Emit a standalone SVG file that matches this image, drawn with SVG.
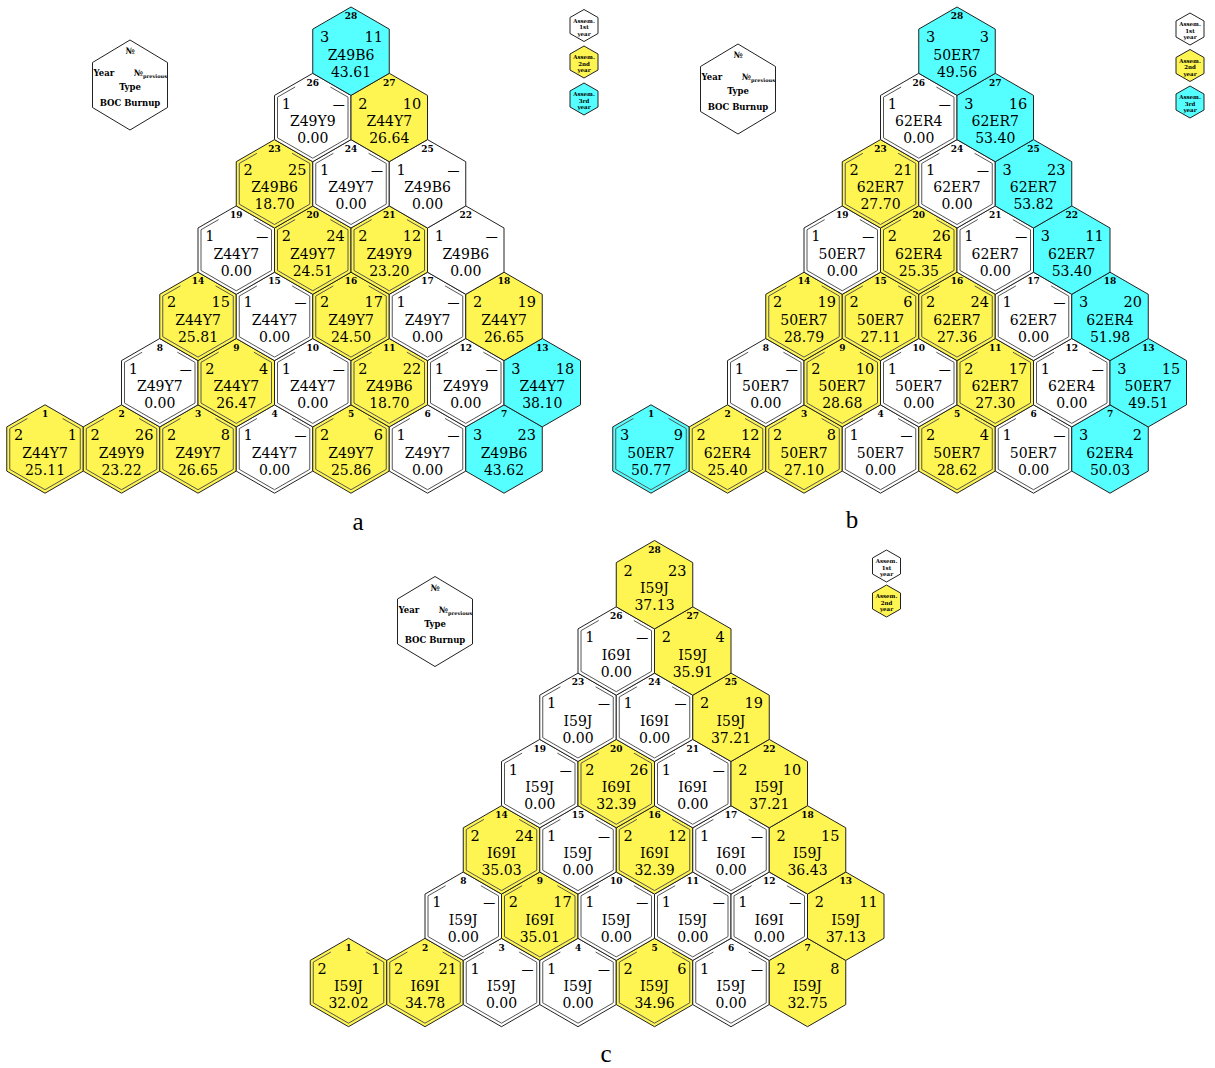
<svg xmlns="http://www.w3.org/2000/svg" width="1215" height="1068" viewBox="0 0 1215 1068">
<style>
.h{stroke:#222;stroke-width:1}
.w{fill:#fff}.y{fill:#FFF552}.c{fill:#55FFFF}
.in{fill:none;stroke:#555;stroke-width:1}
text{font-family:"DejaVu Serif",serif;fill:#000}
.n{font-size:9px;font-weight:bold;text-anchor:middle}
.l{font-size:14.5px}
.r{font-size:14.5px;text-anchor:end}
.d{font-size:12px;text-anchor:end}
.t{font-size:14px;text-anchor:middle}
.lg{font-size:8.5px;font-weight:bold}
.lgm{font-size:8.5px;font-weight:bold;text-anchor:middle}
.sl{font-size:5.5px;font-weight:bold;text-anchor:middle}
.cap{font-family:"Liberation Serif",serif;font-size:25px;text-anchor:middle}
</style>
<defs>
<path id="hx" d="M0,-44.2 L38.25,-22.1 L38.25,22.1 L0,44.2 L-38.25,22.1 L-38.25,-22.1Z"/>
<path id="in" d="M-17.6,-30.5 L-35.25,-20.35 L-35.25,20.35 L0,40.7 L35.25,20.35 L35.25,-20.35 L17.6,-30.5"/>
<path id="lh" d="M0,-45 L37.5,-22.5 L37.5,22.5 L0,45 L-37.5,22.5 L-37.5,-22.5Z"/>
<path id="sh" d="M0,-16 L14,-8 L14,8 L0,16 L-14,8 L-14,-8Z"/>
</defs>

<!-- Panel a -->
<g id="panel-a">
<g id="a-legend" transform="translate(130,85)"><use href="#lh" class="h w"/><text class="lgm" y="-31">№</text><text class="lg" x="-36.5" y="-9">Year</text><text class="lg" x="37" y="-9" text-anchor="end">№<tspan font-size="5" dy="2">previous</tspan></text><text class="lgm" y="5">Type</text><text class="lgm" y="21">BOC Burnup</text></g>
<g id="a-key1" transform="translate(584,25.5)"><use href="#sh" class="h w"/><text class="sl" y="-3">Assem.</text><text class="sl" y="3.5">1st</text><text class="sl" y="10">year</text></g>
<g id="a-key2" transform="translate(584,62)"><use href="#sh" class="h y"/><text class="sl" y="-3">Assem.</text><text class="sl" y="3.5">2nd</text><text class="sl" y="10">year</text></g>
<g id="a-key3" transform="translate(584,99)"><use href="#sh" class="h c"/><text class="sl" y="-3">Assem.</text><text class="sl" y="3.5">3rd</text><text class="sl" y="10">year</text></g>
<g id="a1" transform="translate(45,449)"><use href="#hx" class="h y"/><use href="#in" class="in"/><text class="n" y="-32">1</text><text class="l" x="-31" y="-9">2</text><text class="r" x="32" y="-9">1</text><text class="t" y="8.5">Z44Y7</text><text class="t" y="25.5">25.11</text></g>
<g id="a2" transform="translate(121.5,449)"><use href="#hx" class="h y"/><use href="#in" class="in"/><text class="n" y="-32">2</text><text class="l" x="-31" y="-9">2</text><text class="r" x="32" y="-9">26</text><text class="t" y="8.5">Z49Y9</text><text class="t" y="25.5">23.22</text></g>
<g id="a3" transform="translate(198,449)"><use href="#hx" class="h y"/><use href="#in" class="in"/><text class="n" y="-32">3</text><text class="l" x="-31" y="-9">2</text><text class="r" x="32" y="-9">8</text><text class="t" y="8.5">Z49Y7</text><text class="t" y="25.5">26.65</text></g>
<g id="a4" transform="translate(274.5,449)"><use href="#hx" class="h w"/><use href="#in" class="in"/><text class="n" y="-32">4</text><text class="l" x="-31" y="-9">1</text><text class="d" x="32" y="-9">—</text><text class="t" y="8.5">Z44Y7</text><text class="t" y="25.5">0.00</text></g>
<g id="a5" transform="translate(351,449)"><use href="#hx" class="h y"/><use href="#in" class="in"/><text class="n" y="-32">5</text><text class="l" x="-31" y="-9">2</text><text class="r" x="32" y="-9">6</text><text class="t" y="8.5">Z49Y7</text><text class="t" y="25.5">25.86</text></g>
<g id="a6" transform="translate(427.5,449)"><use href="#hx" class="h w"/><use href="#in" class="in"/><text class="n" y="-32">6</text><text class="l" x="-31" y="-9">1</text><text class="d" x="32" y="-9">—</text><text class="t" y="8.5">Z49Y7</text><text class="t" y="25.5">0.00</text></g>
<g id="a7" transform="translate(504,449)"><use href="#hx" class="h c"/><text class="n" y="-32">7</text><text class="l" x="-31" y="-9">3</text><text class="r" x="32" y="-9">23</text><text class="t" y="8.5">Z49B6</text><text class="t" y="25.5">43.62</text></g>
<g id="a8" transform="translate(159.75,382.7)"><use href="#hx" class="h w"/><use href="#in" class="in"/><text class="n" y="-32">8</text><text class="l" x="-31" y="-9">1</text><text class="d" x="32" y="-9">—</text><text class="t" y="8.5">Z49Y7</text><text class="t" y="25.5">0.00</text></g>
<g id="a9" transform="translate(236.25,382.7)"><use href="#hx" class="h y"/><use href="#in" class="in"/><text class="n" y="-32">9</text><text class="l" x="-31" y="-9">2</text><text class="r" x="32" y="-9">4</text><text class="t" y="8.5">Z44Y7</text><text class="t" y="25.5">26.47</text></g>
<g id="a10" transform="translate(312.75,382.7)"><use href="#hx" class="h w"/><use href="#in" class="in"/><text class="n" y="-32">10</text><text class="l" x="-31" y="-9">1</text><text class="d" x="32" y="-9">—</text><text class="t" y="8.5">Z44Y7</text><text class="t" y="25.5">0.00</text></g>
<g id="a11" transform="translate(389.25,382.7)"><use href="#hx" class="h y"/><use href="#in" class="in"/><text class="n" y="-32">11</text><text class="l" x="-31" y="-9">2</text><text class="r" x="32" y="-9">22</text><text class="t" y="8.5">Z49B6</text><text class="t" y="25.5">18.70</text></g>
<g id="a12" transform="translate(465.75,382.7)"><use href="#hx" class="h w"/><use href="#in" class="in"/><text class="n" y="-32">12</text><text class="l" x="-31" y="-9">1</text><text class="d" x="32" y="-9">—</text><text class="t" y="8.5">Z49Y9</text><text class="t" y="25.5">0.00</text></g>
<g id="a13" transform="translate(542.25,382.7)"><use href="#hx" class="h c"/><text class="n" y="-32">13</text><text class="l" x="-31" y="-9">3</text><text class="r" x="32" y="-9">18</text><text class="t" y="8.5">Z44Y7</text><text class="t" y="25.5">38.10</text></g>
<g id="a14" transform="translate(198,316.4)"><use href="#hx" class="h y"/><use href="#in" class="in"/><text class="n" y="-32">14</text><text class="l" x="-31" y="-9">2</text><text class="r" x="32" y="-9">15</text><text class="t" y="8.5">Z44Y7</text><text class="t" y="25.5">25.81</text></g>
<g id="a15" transform="translate(274.5,316.4)"><use href="#hx" class="h w"/><use href="#in" class="in"/><text class="n" y="-32">15</text><text class="l" x="-31" y="-9">1</text><text class="d" x="32" y="-9">—</text><text class="t" y="8.5">Z44Y7</text><text class="t" y="25.5">0.00</text></g>
<g id="a16" transform="translate(351,316.4)"><use href="#hx" class="h y"/><use href="#in" class="in"/><text class="n" y="-32">16</text><text class="l" x="-31" y="-9">2</text><text class="r" x="32" y="-9">17</text><text class="t" y="8.5">Z49Y7</text><text class="t" y="25.5">24.50</text></g>
<g id="a17" transform="translate(427.5,316.4)"><use href="#hx" class="h w"/><use href="#in" class="in"/><text class="n" y="-32">17</text><text class="l" x="-31" y="-9">1</text><text class="d" x="32" y="-9">—</text><text class="t" y="8.5">Z49Y7</text><text class="t" y="25.5">0.00</text></g>
<g id="a18" transform="translate(504,316.4)"><use href="#hx" class="h y"/><text class="n" y="-32">18</text><text class="l" x="-31" y="-9">2</text><text class="r" x="32" y="-9">19</text><text class="t" y="8.5">Z44Y7</text><text class="t" y="25.5">26.65</text></g>
<g id="a19" transform="translate(236.25,250.1)"><use href="#hx" class="h w"/><use href="#in" class="in"/><text class="n" y="-32">19</text><text class="l" x="-31" y="-9">1</text><text class="d" x="32" y="-9">—</text><text class="t" y="8.5">Z44Y7</text><text class="t" y="25.5">0.00</text></g>
<g id="a20" transform="translate(312.75,250.1)"><use href="#hx" class="h y"/><use href="#in" class="in"/><text class="n" y="-32">20</text><text class="l" x="-31" y="-9">2</text><text class="r" x="32" y="-9">24</text><text class="t" y="8.5">Z49Y7</text><text class="t" y="25.5">24.51</text></g>
<g id="a21" transform="translate(389.25,250.1)"><use href="#hx" class="h y"/><use href="#in" class="in"/><text class="n" y="-32">21</text><text class="l" x="-31" y="-9">2</text><text class="r" x="32" y="-9">12</text><text class="t" y="8.5">Z49Y9</text><text class="t" y="25.5">23.20</text></g>
<g id="a22" transform="translate(465.75,250.1)"><use href="#hx" class="h w"/><text class="n" y="-32">22</text><text class="l" x="-31" y="-9">1</text><text class="d" x="32" y="-9">—</text><text class="t" y="8.5">Z49B6</text><text class="t" y="25.5">0.00</text></g>
<g id="a23" transform="translate(274.5,183.8)"><use href="#hx" class="h y"/><use href="#in" class="in"/><text class="n" y="-32">23</text><text class="l" x="-31" y="-9">2</text><text class="r" x="32" y="-9">25</text><text class="t" y="8.5">Z49B6</text><text class="t" y="25.5">18.70</text></g>
<g id="a24" transform="translate(351,183.8)"><use href="#hx" class="h w"/><use href="#in" class="in"/><text class="n" y="-32">24</text><text class="l" x="-31" y="-9">1</text><text class="d" x="32" y="-9">—</text><text class="t" y="8.5">Z49Y7</text><text class="t" y="25.5">0.00</text></g>
<g id="a25" transform="translate(427.5,183.8)"><use href="#hx" class="h w"/><text class="n" y="-32">25</text><text class="l" x="-31" y="-9">1</text><text class="d" x="32" y="-9">—</text><text class="t" y="8.5">Z49B6</text><text class="t" y="25.5">0.00</text></g>
<g id="a26" transform="translate(312.75,117.5)"><use href="#hx" class="h w"/><use href="#in" class="in"/><text class="n" y="-32">26</text><text class="l" x="-31" y="-9">1</text><text class="d" x="32" y="-9">—</text><text class="t" y="8.5">Z49Y9</text><text class="t" y="25.5">0.00</text></g>
<g id="a27" transform="translate(389.25,117.5)"><use href="#hx" class="h y"/><text class="n" y="-32">27</text><text class="l" x="-31" y="-9">2</text><text class="r" x="32" y="-9">10</text><text class="t" y="8.5">Z44Y7</text><text class="t" y="25.5">26.64</text></g>
<g id="a28" transform="translate(351,51.2)"><use href="#hx" class="h c"/><text class="n" y="-32">28</text><text class="l" x="-31" y="-9">3</text><text class="r" x="32" y="-9">11</text><text class="t" y="8.5">Z49B6</text><text class="t" y="25.5">43.61</text></g>
<text class="cap" x="358" y="530">a</text>
</g>

<!-- Panel b -->
<g id="panel-b" transform="translate(606,0)">
<g id="b-legend" transform="translate(132,89)"><use href="#lh" class="h w"/><text class="lgm" y="-31">№</text><text class="lg" x="-36.5" y="-9">Year</text><text class="lg" x="37" y="-9" text-anchor="end">№<tspan font-size="5" dy="2">previous</tspan></text><text class="lgm" y="5">Type</text><text class="lgm" y="21">BOC Burnup</text></g>
<g id="b-key1" transform="translate(584,29)"><use href="#sh" class="h w"/><text class="sl" y="-3">Assem.</text><text class="sl" y="3.5">1st</text><text class="sl" y="10">year</text></g>
<g id="b-key2" transform="translate(584,65.5)"><use href="#sh" class="h y"/><text class="sl" y="-3">Assem.</text><text class="sl" y="3.5">2nd</text><text class="sl" y="10">year</text></g>
<g id="b-key3" transform="translate(584,102)"><use href="#sh" class="h c"/><text class="sl" y="-3">Assem.</text><text class="sl" y="3.5">3rd</text><text class="sl" y="10">year</text></g>
<g id="b1" transform="translate(45,449)"><use href="#hx" class="h c"/><use href="#in" class="in"/><text class="n" y="-32">1</text><text class="l" x="-31" y="-9">3</text><text class="r" x="32" y="-9">9</text><text class="t" y="8.5">50ER7</text><text class="t" y="25.5">50.77</text></g>
<g id="b2" transform="translate(121.5,449)"><use href="#hx" class="h y"/><use href="#in" class="in"/><text class="n" y="-32">2</text><text class="l" x="-31" y="-9">2</text><text class="r" x="32" y="-9">12</text><text class="t" y="8.5">62ER4</text><text class="t" y="25.5">25.40</text></g>
<g id="b3" transform="translate(198,449)"><use href="#hx" class="h y"/><use href="#in" class="in"/><text class="n" y="-32">3</text><text class="l" x="-31" y="-9">2</text><text class="r" x="32" y="-9">8</text><text class="t" y="8.5">50ER7</text><text class="t" y="25.5">27.10</text></g>
<g id="b4" transform="translate(274.5,449)"><use href="#hx" class="h w"/><use href="#in" class="in"/><text class="n" y="-32">4</text><text class="l" x="-31" y="-9">1</text><text class="d" x="32" y="-9">—</text><text class="t" y="8.5">50ER7</text><text class="t" y="25.5">0.00</text></g>
<g id="b5" transform="translate(351,449)"><use href="#hx" class="h y"/><use href="#in" class="in"/><text class="n" y="-32">5</text><text class="l" x="-31" y="-9">2</text><text class="r" x="32" y="-9">4</text><text class="t" y="8.5">50ER7</text><text class="t" y="25.5">28.62</text></g>
<g id="b6" transform="translate(427.5,449)"><use href="#hx" class="h w"/><use href="#in" class="in"/><text class="n" y="-32">6</text><text class="l" x="-31" y="-9">1</text><text class="d" x="32" y="-9">—</text><text class="t" y="8.5">50ER7</text><text class="t" y="25.5">0.00</text></g>
<g id="b7" transform="translate(504,449)"><use href="#hx" class="h c"/><text class="n" y="-32">7</text><text class="l" x="-31" y="-9">3</text><text class="r" x="32" y="-9">2</text><text class="t" y="8.5">62ER4</text><text class="t" y="25.5">50.03</text></g>
<g id="b8" transform="translate(159.75,382.7)"><use href="#hx" class="h w"/><use href="#in" class="in"/><text class="n" y="-32">8</text><text class="l" x="-31" y="-9">1</text><text class="d" x="32" y="-9">—</text><text class="t" y="8.5">50ER7</text><text class="t" y="25.5">0.00</text></g>
<g id="b9" transform="translate(236.25,382.7)"><use href="#hx" class="h y"/><use href="#in" class="in"/><text class="n" y="-32">9</text><text class="l" x="-31" y="-9">2</text><text class="r" x="32" y="-9">10</text><text class="t" y="8.5">50ER7</text><text class="t" y="25.5">28.68</text></g>
<g id="b10" transform="translate(312.75,382.7)"><use href="#hx" class="h w"/><use href="#in" class="in"/><text class="n" y="-32">10</text><text class="l" x="-31" y="-9">1</text><text class="d" x="32" y="-9">—</text><text class="t" y="8.5">50ER7</text><text class="t" y="25.5">0.00</text></g>
<g id="b11" transform="translate(389.25,382.7)"><use href="#hx" class="h y"/><use href="#in" class="in"/><text class="n" y="-32">11</text><text class="l" x="-31" y="-9">2</text><text class="r" x="32" y="-9">17</text><text class="t" y="8.5">62ER7</text><text class="t" y="25.5">27.30</text></g>
<g id="b12" transform="translate(465.75,382.7)"><use href="#hx" class="h w"/><use href="#in" class="in"/><text class="n" y="-32">12</text><text class="l" x="-31" y="-9">1</text><text class="d" x="32" y="-9">—</text><text class="t" y="8.5">62ER4</text><text class="t" y="25.5">0.00</text></g>
<g id="b13" transform="translate(542.25,382.7)"><use href="#hx" class="h c"/><text class="n" y="-32">13</text><text class="l" x="-31" y="-9">3</text><text class="r" x="32" y="-9">15</text><text class="t" y="8.5">50ER7</text><text class="t" y="25.5">49.51</text></g>
<g id="b14" transform="translate(198,316.4)"><use href="#hx" class="h y"/><use href="#in" class="in"/><text class="n" y="-32">14</text><text class="l" x="-31" y="-9">2</text><text class="r" x="32" y="-9">19</text><text class="t" y="8.5">50ER7</text><text class="t" y="25.5">28.79</text></g>
<g id="b15" transform="translate(274.5,316.4)"><use href="#hx" class="h y"/><use href="#in" class="in"/><text class="n" y="-32">15</text><text class="l" x="-31" y="-9">2</text><text class="r" x="32" y="-9">6</text><text class="t" y="8.5">50ER7</text><text class="t" y="25.5">27.11</text></g>
<g id="b16" transform="translate(351,316.4)"><use href="#hx" class="h y"/><use href="#in" class="in"/><text class="n" y="-32">16</text><text class="l" x="-31" y="-9">2</text><text class="r" x="32" y="-9">24</text><text class="t" y="8.5">62ER7</text><text class="t" y="25.5">27.36</text></g>
<g id="b17" transform="translate(427.5,316.4)"><use href="#hx" class="h w"/><use href="#in" class="in"/><text class="n" y="-32">17</text><text class="l" x="-31" y="-9">1</text><text class="d" x="32" y="-9">—</text><text class="t" y="8.5">62ER7</text><text class="t" y="25.5">0.00</text></g>
<g id="b18" transform="translate(504,316.4)"><use href="#hx" class="h c"/><text class="n" y="-32">18</text><text class="l" x="-31" y="-9">3</text><text class="r" x="32" y="-9">20</text><text class="t" y="8.5">62ER4</text><text class="t" y="25.5">51.98</text></g>
<g id="b19" transform="translate(236.25,250.1)"><use href="#hx" class="h w"/><use href="#in" class="in"/><text class="n" y="-32">19</text><text class="l" x="-31" y="-9">1</text><text class="d" x="32" y="-9">—</text><text class="t" y="8.5">50ER7</text><text class="t" y="25.5">0.00</text></g>
<g id="b20" transform="translate(312.75,250.1)"><use href="#hx" class="h y"/><use href="#in" class="in"/><text class="n" y="-32">20</text><text class="l" x="-31" y="-9">2</text><text class="r" x="32" y="-9">26</text><text class="t" y="8.5">62ER4</text><text class="t" y="25.5">25.35</text></g>
<g id="b21" transform="translate(389.25,250.1)"><use href="#hx" class="h w"/><use href="#in" class="in"/><text class="n" y="-32">21</text><text class="l" x="-31" y="-9">1</text><text class="d" x="32" y="-9">—</text><text class="t" y="8.5">62ER7</text><text class="t" y="25.5">0.00</text></g>
<g id="b22" transform="translate(465.75,250.1)"><use href="#hx" class="h c"/><text class="n" y="-32">22</text><text class="l" x="-31" y="-9">3</text><text class="r" x="32" y="-9">11</text><text class="t" y="8.5">62ER7</text><text class="t" y="25.5">53.40</text></g>
<g id="b23" transform="translate(274.5,183.8)"><use href="#hx" class="h y"/><use href="#in" class="in"/><text class="n" y="-32">23</text><text class="l" x="-31" y="-9">2</text><text class="r" x="32" y="-9">21</text><text class="t" y="8.5">62ER7</text><text class="t" y="25.5">27.70</text></g>
<g id="b24" transform="translate(351,183.8)"><use href="#hx" class="h w"/><use href="#in" class="in"/><text class="n" y="-32">24</text><text class="l" x="-31" y="-9">1</text><text class="d" x="32" y="-9">—</text><text class="t" y="8.5">62ER7</text><text class="t" y="25.5">0.00</text></g>
<g id="b25" transform="translate(427.5,183.8)"><use href="#hx" class="h c"/><text class="n" y="-32">25</text><text class="l" x="-31" y="-9">3</text><text class="r" x="32" y="-9">23</text><text class="t" y="8.5">62ER7</text><text class="t" y="25.5">53.82</text></g>
<g id="b26" transform="translate(312.75,117.5)"><use href="#hx" class="h w"/><use href="#in" class="in"/><text class="n" y="-32">26</text><text class="l" x="-31" y="-9">1</text><text class="d" x="32" y="-9">—</text><text class="t" y="8.5">62ER4</text><text class="t" y="25.5">0.00</text></g>
<g id="b27" transform="translate(389.25,117.5)"><use href="#hx" class="h c"/><text class="n" y="-32">27</text><text class="l" x="-31" y="-9">3</text><text class="r" x="32" y="-9">16</text><text class="t" y="8.5">62ER7</text><text class="t" y="25.5">53.40</text></g>
<g id="b28" transform="translate(351,51.2)"><use href="#hx" class="h c"/><text class="n" y="-32">28</text><text class="l" x="-31" y="-9">3</text><text class="r" x="32" y="-9">3</text><text class="t" y="8.5">50ER7</text><text class="t" y="25.5">49.56</text></g>
<text class="cap" x="246" y="528">b</text>
</g>

<!-- Panel c -->
<g id="panel-c" transform="translate(303.5,533.5)">
<g id="c-legend" transform="translate(131.5,88)"><use href="#lh" class="h w"/><text class="lgm" y="-31">№</text><text class="lg" x="-36.5" y="-9">Year</text><text class="lg" x="37" y="-9" text-anchor="end">№<tspan font-size="5" dy="2">previous</tspan></text><text class="lgm" y="5">Type</text><text class="lgm" y="21">BOC Burnup</text></g>
<g id="c-key1" transform="translate(583,32.5)"><use href="#sh" class="h w"/><text class="sl" y="-3">Assem.</text><text class="sl" y="3.5">1st</text><text class="sl" y="10">year</text></g>
<g id="c-key2" transform="translate(583,67.5)"><use href="#sh" class="h y"/><text class="sl" y="-3">Assem.</text><text class="sl" y="3.5">2nd</text><text class="sl" y="10">year</text></g>
<g id="c1" transform="translate(45,449)"><use href="#hx" class="h y"/><use href="#in" class="in"/><text class="n" y="-32">1</text><text class="l" x="-31" y="-9">2</text><text class="r" x="32" y="-9">1</text><text class="t" y="8.5">I59J</text><text class="t" y="25.5">32.02</text></g>
<g id="c2" transform="translate(121.5,449)"><use href="#hx" class="h y"/><use href="#in" class="in"/><text class="n" y="-32">2</text><text class="l" x="-31" y="-9">2</text><text class="r" x="32" y="-9">21</text><text class="t" y="8.5">I69I</text><text class="t" y="25.5">34.78</text></g>
<g id="c3" transform="translate(198,449)"><use href="#hx" class="h w"/><use href="#in" class="in"/><text class="n" y="-32">3</text><text class="l" x="-31" y="-9">1</text><text class="d" x="32" y="-9">—</text><text class="t" y="8.5">I59J</text><text class="t" y="25.5">0.00</text></g>
<g id="c4" transform="translate(274.5,449)"><use href="#hx" class="h w"/><use href="#in" class="in"/><text class="n" y="-32">4</text><text class="l" x="-31" y="-9">1</text><text class="d" x="32" y="-9">—</text><text class="t" y="8.5">I59J</text><text class="t" y="25.5">0.00</text></g>
<g id="c5" transform="translate(351,449)"><use href="#hx" class="h y"/><use href="#in" class="in"/><text class="n" y="-32">5</text><text class="l" x="-31" y="-9">2</text><text class="r" x="32" y="-9">6</text><text class="t" y="8.5">I59J</text><text class="t" y="25.5">34.96</text></g>
<g id="c6" transform="translate(427.5,449)"><use href="#hx" class="h w"/><use href="#in" class="in"/><text class="n" y="-32">6</text><text class="l" x="-31" y="-9">1</text><text class="d" x="32" y="-9">—</text><text class="t" y="8.5">I59J</text><text class="t" y="25.5">0.00</text></g>
<g id="c7" transform="translate(504,449)"><use href="#hx" class="h y"/><text class="n" y="-32">7</text><text class="l" x="-31" y="-9">2</text><text class="r" x="32" y="-9">8</text><text class="t" y="8.5">I59J</text><text class="t" y="25.5">32.75</text></g>
<g id="c8" transform="translate(159.75,382.7)"><use href="#hx" class="h w"/><use href="#in" class="in"/><text class="n" y="-32">8</text><text class="l" x="-31" y="-9">1</text><text class="d" x="32" y="-9">—</text><text class="t" y="8.5">I59J</text><text class="t" y="25.5">0.00</text></g>
<g id="c9" transform="translate(236.25,382.7)"><use href="#hx" class="h y"/><use href="#in" class="in"/><text class="n" y="-32">9</text><text class="l" x="-31" y="-9">2</text><text class="r" x="32" y="-9">17</text><text class="t" y="8.5">I69I</text><text class="t" y="25.5">35.01</text></g>
<g id="c10" transform="translate(312.75,382.7)"><use href="#hx" class="h w"/><use href="#in" class="in"/><text class="n" y="-32">10</text><text class="l" x="-31" y="-9">1</text><text class="d" x="32" y="-9">—</text><text class="t" y="8.5">I59J</text><text class="t" y="25.5">0.00</text></g>
<g id="c11" transform="translate(389.25,382.7)"><use href="#hx" class="h w"/><use href="#in" class="in"/><text class="n" y="-32">11</text><text class="l" x="-31" y="-9">1</text><text class="d" x="32" y="-9">—</text><text class="t" y="8.5">I59J</text><text class="t" y="25.5">0.00</text></g>
<g id="c12" transform="translate(465.75,382.7)"><use href="#hx" class="h w"/><use href="#in" class="in"/><text class="n" y="-32">12</text><text class="l" x="-31" y="-9">1</text><text class="d" x="32" y="-9">—</text><text class="t" y="8.5">I69I</text><text class="t" y="25.5">0.00</text></g>
<g id="c13" transform="translate(542.25,382.7)"><use href="#hx" class="h y"/><text class="n" y="-32">13</text><text class="l" x="-31" y="-9">2</text><text class="r" x="32" y="-9">11</text><text class="t" y="8.5">I59J</text><text class="t" y="25.5">37.13</text></g>
<g id="c14" transform="translate(198,316.4)"><use href="#hx" class="h y"/><use href="#in" class="in"/><text class="n" y="-32">14</text><text class="l" x="-31" y="-9">2</text><text class="r" x="32" y="-9">24</text><text class="t" y="8.5">I69I</text><text class="t" y="25.5">35.03</text></g>
<g id="c15" transform="translate(274.5,316.4)"><use href="#hx" class="h w"/><use href="#in" class="in"/><text class="n" y="-32">15</text><text class="l" x="-31" y="-9">1</text><text class="d" x="32" y="-9">—</text><text class="t" y="8.5">I59J</text><text class="t" y="25.5">0.00</text></g>
<g id="c16" transform="translate(351,316.4)"><use href="#hx" class="h y"/><use href="#in" class="in"/><text class="n" y="-32">16</text><text class="l" x="-31" y="-9">2</text><text class="r" x="32" y="-9">12</text><text class="t" y="8.5">I69I</text><text class="t" y="25.5">32.39</text></g>
<g id="c17" transform="translate(427.5,316.4)"><use href="#hx" class="h w"/><use href="#in" class="in"/><text class="n" y="-32">17</text><text class="l" x="-31" y="-9">1</text><text class="d" x="32" y="-9">—</text><text class="t" y="8.5">I69I</text><text class="t" y="25.5">0.00</text></g>
<g id="c18" transform="translate(504,316.4)"><use href="#hx" class="h y"/><text class="n" y="-32">18</text><text class="l" x="-31" y="-9">2</text><text class="r" x="32" y="-9">15</text><text class="t" y="8.5">I59J</text><text class="t" y="25.5">36.43</text></g>
<g id="c19" transform="translate(236.25,250.1)"><use href="#hx" class="h w"/><use href="#in" class="in"/><text class="n" y="-32">19</text><text class="l" x="-31" y="-9">1</text><text class="d" x="32" y="-9">—</text><text class="t" y="8.5">I59J</text><text class="t" y="25.5">0.00</text></g>
<g id="c20" transform="translate(312.75,250.1)"><use href="#hx" class="h y"/><use href="#in" class="in"/><text class="n" y="-32">20</text><text class="l" x="-31" y="-9">2</text><text class="r" x="32" y="-9">26</text><text class="t" y="8.5">I69I</text><text class="t" y="25.5">32.39</text></g>
<g id="c21" transform="translate(389.25,250.1)"><use href="#hx" class="h w"/><use href="#in" class="in"/><text class="n" y="-32">21</text><text class="l" x="-31" y="-9">1</text><text class="d" x="32" y="-9">—</text><text class="t" y="8.5">I69I</text><text class="t" y="25.5">0.00</text></g>
<g id="c22" transform="translate(465.75,250.1)"><use href="#hx" class="h y"/><text class="n" y="-32">22</text><text class="l" x="-31" y="-9">2</text><text class="r" x="32" y="-9">10</text><text class="t" y="8.5">I59J</text><text class="t" y="25.5">37.21</text></g>
<g id="c23" transform="translate(274.5,183.8)"><use href="#hx" class="h w"/><use href="#in" class="in"/><text class="n" y="-32">23</text><text class="l" x="-31" y="-9">1</text><text class="d" x="32" y="-9">—</text><text class="t" y="8.5">I59J</text><text class="t" y="25.5">0.00</text></g>
<g id="c24" transform="translate(351,183.8)"><use href="#hx" class="h w"/><use href="#in" class="in"/><text class="n" y="-32">24</text><text class="l" x="-31" y="-9">1</text><text class="d" x="32" y="-9">—</text><text class="t" y="8.5">I69I</text><text class="t" y="25.5">0.00</text></g>
<g id="c25" transform="translate(427.5,183.8)"><use href="#hx" class="h y"/><text class="n" y="-32">25</text><text class="l" x="-31" y="-9">2</text><text class="r" x="32" y="-9">19</text><text class="t" y="8.5">I59J</text><text class="t" y="25.5">37.21</text></g>
<g id="c26" transform="translate(312.75,117.5)"><use href="#hx" class="h w"/><use href="#in" class="in"/><text class="n" y="-32">26</text><text class="l" x="-31" y="-9">1</text><text class="d" x="32" y="-9">—</text><text class="t" y="8.5">I69I</text><text class="t" y="25.5">0.00</text></g>
<g id="c27" transform="translate(389.25,117.5)"><use href="#hx" class="h y"/><text class="n" y="-32">27</text><text class="l" x="-31" y="-9">2</text><text class="r" x="32" y="-9">4</text><text class="t" y="8.5">I59J</text><text class="t" y="25.5">35.91</text></g>
<g id="c28" transform="translate(351,51.2)"><use href="#hx" class="h y"/><text class="n" y="-32">28</text><text class="l" x="-31" y="-9">2</text><text class="r" x="32" y="-9">23</text><text class="t" y="8.5">I59J</text><text class="t" y="25.5">37.13</text></g>
<text class="cap" x="302.5" y="528">c</text>
</g>
</svg>
